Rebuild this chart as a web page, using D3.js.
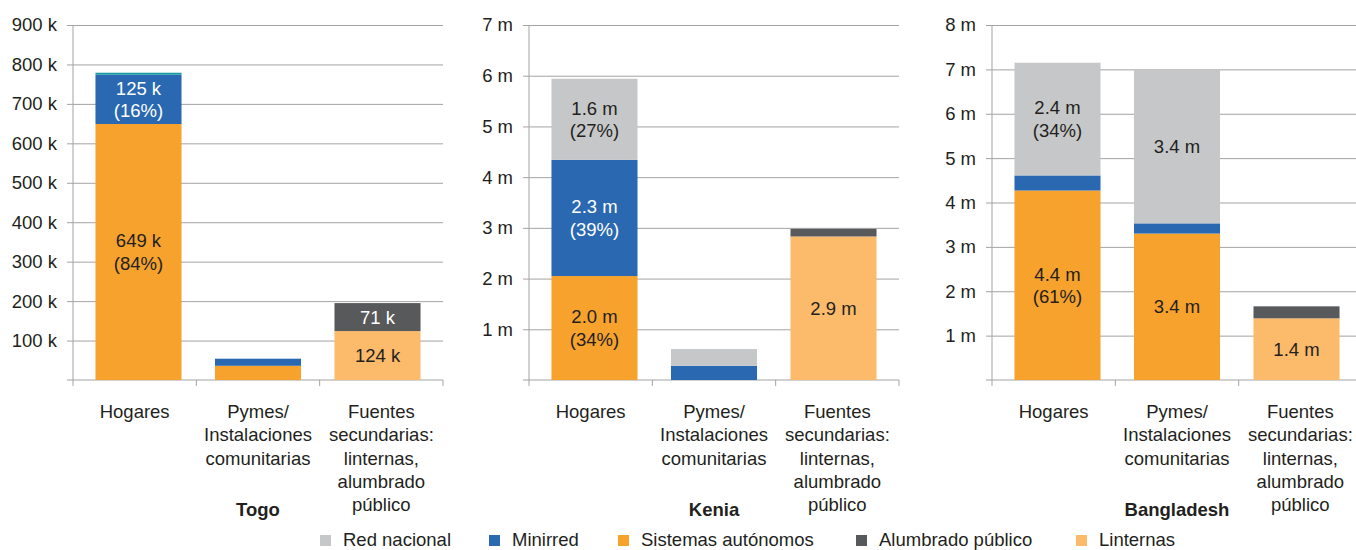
<!DOCTYPE html>
<html>
<head>
<meta charset="utf-8">
<script src="https://cdn.jsdelivr.net/npm/d3@7"></script>
<style>
  body { margin: 0; background: #fff; }
  text { font-family: "Liberation Sans", Arial, sans-serif; fill: #231f20; }
</style>
</head>
<body>
<svg class="chart"></svg>
<script>
var width = 1356, height = 550;

// data (Togo in thousands, Kenia / Bangladesh in millions)
var countries = ["Togo", "Kenia", "Bangladesh"];
var units = ["k", "m", "m"];
var yMax = [900, 7, 8];
var yTicks = [[100, 200, 300, 400, 500, 600, 700, 800, 900], [1, 2, 3, 4, 5, 6, 7], [1, 2, 3, 4, 5, 6, 7, 8]];
var categories = [
    ["Hogares"],
    ["Pymes/", "Instalaciones", "comunitarias"],
    ["Fuentes", "secundarias:", "linternas,", "alumbrado", "público"]
];

// one row per country, one value per category
var sistemasAutonomos = [[649, 36, 0], [2.05, 0, 0], [4.27, 3.30, 0]];
var linternas         = [[0, 0, 124], [0, 0, 2.83], [0, 0, 1.39]];
var minirred          = [[125, 18, 0], [2.29, 0.28, 0], [0.34, 0.23, 0]];
var alumbradoPublico  = [[0, 0, 71], [0, 0, 0.15], [0, 0, 0.27]];
var redNacional       = [[0, 0, 0], [1.6, 0.33, 0], [2.54, 3.46, 0]];
var otros             = [[5, 0, 0], [0, 0, 0], [0, 0, 0]];

// labels inside segments: [country, category, series, line1, line2]
var segmentLabels = [
    [0, 0, "sistemas", "649 k", "(84%)"],
    [0, 0, "minirred", "125 k", "(16%)"],
    [0, 2, "alumbrado", "71 k", ""],
    [0, 2, "linternas", "124 k", ""],
    [1, 0, "red", "1.6 m", "(27%)"],
    [1, 0, "minirred", "2.3 m", "(39%)"],
    [1, 0, "sistemas", "2.0 m", "(34%)"],
    [1, 2, "linternas", "2.9 m", ""],
    [2, 0, "red", "2.4 m", "(34%)"],
    [2, 0, "sistemas", "4.4 m", "(61%)"],
    [2, 1, "red", "3.4 m", ""],
    [2, 1, "sistemas", "3.4 m", ""],
    [2, 2, "linternas", "1.4 m", ""]
];

var seriesDefs = [
    {key: "sistemas", values: sistemasAutonomos, color: "#f6a22d", text: "#231f20"},
    {key: "linternas", values: linternas, color: "#fcba6b", text: "#231f20"},
    {key: "minirred", values: minirred, color: "#2a69b1", text: "#ffffff"},
    {key: "alumbrado", values: alumbradoPublico, color: "#58595b", text: "#ffffff"},
    {key: "red", values: redNacional, color: "#c6c7c9", text: "#231f20"},
    {key: "otros", values: otros, color: "#1a9aa3", text: "#ffffff"}
];

var legendItems = [
    {name: "Red nacional", color: "#c6c7c9"},
    {name: "Minirred", color: "#2a69b1"},
    {name: "Sistemas autónomos", color: "#f6a22d"},
    {name: "Alumbrado público", color: "#58595b"},
    {name: "Linternas", color: "#fcba6b"}
];

var chart = d3.select(".chart")
    .attr("width", width)
    .attr("height", height);

var panelX = [73, 529, 992];
var panelW = 370;
var plotTop = 25, plotBottom = 380;
var gridColor = "#a3a3a3";
var fontSize = "18.5px";

countries.forEach(function(country, ci) {
    var g = chart.append("g").attr("transform", "translate(" + panelX[ci] + ",0)");

    var x = d3.scaleBand()
        .domain(d3.range(categories.length))
        .range([0, panelW])
        .paddingInner(0.28)
        .paddingOuter(0.188);

    var y = d3.scaleLinear()
        .domain([0, yMax[ci]])
        .range([plotBottom, plotTop]);

    // y axis with gridlines
    var yAxis = g.append("g")
        .call(d3.axisLeft(y).tickValues(yTicks[ci]).tickSize(-panelW).tickPadding(16)
            .tickFormat(function(d) { return d + " " + units[ci]; }));
    yAxis.select(".domain").remove();
    yAxis.selectAll(".tick line").attr("x1", -6).attr("x2", panelW).attr("stroke", gridColor);
    yAxis.selectAll(".tick text")
        .style("font-size", fontSize)
        .style("font-family", "Liberation Sans, Arial, sans-serif")
        .attr("fill", "#231f20");

    // vertical axis line
    g.append("line")
        .attr("x1", 0).attr("x2", 0)
        .attr("y1", plotTop).attr("y2", plotBottom + 6)
        .attr("stroke", gridColor);

    // baseline with category separators
    g.append("line")
        .attr("x1", -6).attr("x2", panelW)
        .attr("y1", plotBottom).attr("y2", plotBottom)
        .attr("stroke", gridColor);
    var step = panelW / categories.length;
    d3.range(1, categories.length + 1).forEach(function(i) {
        g.append("line")
            .attr("x1", i * step).attr("x2", i * step)
            .attr("y1", plotBottom).attr("y2", plotBottom + 6)
            .attr("stroke", gridColor);
    });

    // stacked bars
    var segs = {};
    categories.forEach(function(cat, k) {
        var acc = 0;
        seriesDefs.forEach(function(s) {
            var v = s.values[ci][k];
            if (!v) return;
            var y0 = acc, y1 = acc + v;
            acc = y1;
            segs[k + "_" + s.key] = [y0, y1, s.text];
            g.append("rect")
                .attr("x", x(k))
                .attr("width", x.bandwidth())
                .attr("y", y(y1))
                .attr("height", y(y0) - y(y1))
                .attr("fill", s.color);
        });
    });

    // segment labels
    segmentLabels.filter(function(l) { return l[0] === ci; }).forEach(function(l) {
        var seg = segs[l[1] + "_" + l[2]];
        var mid = (y(seg[0]) + y(seg[1])) / 2;
        var cx = x(l[1]) + x.bandwidth() / 2;
        var lines = l[4] ? [l[3], l[4]] : [l[3]];
        lines.forEach(function(t, j) {
            g.append("text")
                .attr("x", cx)
                .attr("y", mid + (j - (lines.length - 1) / 2) * 22.5 + 6.5)
                .attr("text-anchor", "middle")
                .style("font-size", fontSize)
                .style("fill", seg[2])
                .text(t);
        });
    });

    // category labels
    categories.forEach(function(cat, k) {
        cat.forEach(function(line, j) {
            g.append("text")
                .attr("x", (k + 0.5) * step)
                .attr("y", 418 + j * 23.3)
                .attr("text-anchor", "middle")
                .style("font-size", fontSize)
                .text(line);
        });
    });

    // country title
    g.append("text")
        .attr("x", 1.5 * step)
        .attr("y", 516)
        .attr("text-anchor", "middle")
        .style("font-size", fontSize)
        .style("font-weight", "bold")
        .text(country);
});

// legend
var legendX = [320, 489, 618, 856, 1076];
var legend = chart.selectAll(".legend")
    .data(legendItems)
    .enter().append("g")
    .attr("class", "legend")
    .attr("transform", function(d, i) { return "translate(" + legendX[i] + ",535)"; });

legend.append("rect")
    .attr("width", 11)
    .attr("height", 11)
    .attr("fill", function(d) { return d.color; });

legend.append("text")
    .attr("x", 23)
    .attr("y", 11)
    .style("font-size", fontSize)
    .text(function(d) { return d.name; });
</script>
</body>
</html>
